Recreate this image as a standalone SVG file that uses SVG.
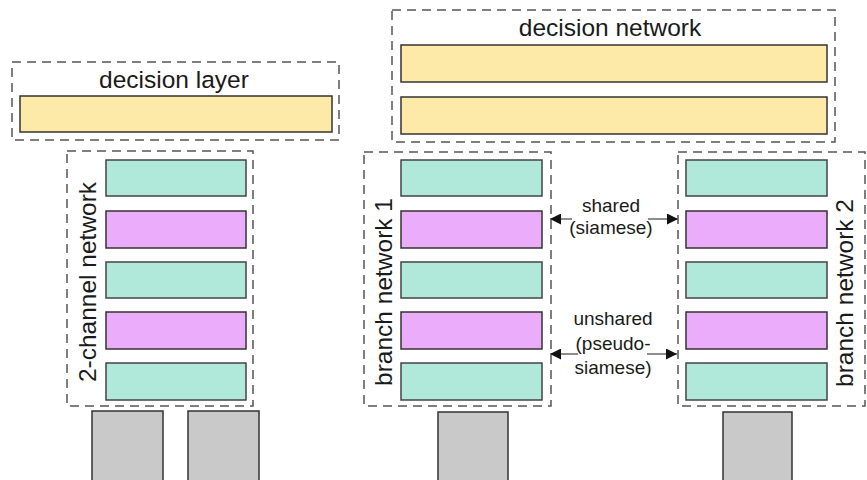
<svg xmlns="http://www.w3.org/2000/svg" width="867" height="480" viewBox="0 0 867 480">
<defs>
<style>
.grp{fill:none;stroke:#555;stroke-width:1.5;stroke-dasharray:9,6}
.dec{fill:#FEEAA8;stroke:#333;stroke-width:1.5}
.conv{fill:#B0E8DA;stroke:#444;stroke-width:1.5}
.pool{fill:#EBACFB;stroke:#333;stroke-width:1.5}
.inp{fill:#C9C9C9;stroke:#333;stroke-width:1.5}
.lbl{font-family:"Liberation Sans",Arial,sans-serif;font-size:24.5px;fill:#1a1a1a;text-anchor:middle}
.sm{font-family:"Liberation Sans",Arial,sans-serif;font-size:19px;fill:#1a1a1a;text-anchor:middle}
.arr{stroke:#666;stroke-width:1.5;fill:none;marker-end:url(#ah)}
</style>
<marker id="ah" viewBox="0 0 10 10" refX="10" refY="5" markerWidth="15" markerHeight="11" markerUnits="userSpaceOnUse" orient="auto">
<path d="M0,0 L10,5 L0,10 z" fill="#111"/>
</marker>
</defs>

<g id="decision-layer">
<rect class="grp" x="12" y="62" width="327" height="78"/>
<text class="lbl" x="174" y="88">decision layer</text>
<rect class="dec" x="20" y="96" width="312" height="36"/>
</g>

<g id="two-channel-network">
<rect class="grp" x="67" y="151" width="186" height="255"/>
<text class="lbl" transform="translate(96,282) rotate(-90)">2-channel network</text>
<rect class="conv" x="106" y="160" width="140" height="36"/>
<rect class="pool" x="106" y="211" width="140" height="37"/>
<rect class="conv" x="106" y="262" width="140" height="36"/>
<rect class="pool" x="106" y="312" width="140" height="37"/>
<rect class="conv" x="106" y="363" width="140" height="37"/>
</g>
<g id="input-a"><rect class="inp" x="92" y="411" width="71" height="75"/></g>
<g id="input-b"><rect class="inp" x="188" y="411" width="71" height="75"/></g>

<g id="decision-network">
<rect class="grp" x="392" y="10" width="443" height="132"/>
<text class="lbl" x="610" y="36">decision network</text>
<rect class="dec" x="401" y="45" width="426" height="37"/>
<rect class="dec" x="401" y="97" width="426" height="37"/>
</g>

<g id="branch-network-1">
<rect class="grp" x="364" y="152" width="187" height="254"/>
<text class="lbl" transform="translate(392,292) rotate(-90)">branch network 1</text>
<rect class="conv" x="401" y="160" width="141" height="36"/>
<rect class="pool" x="401" y="211" width="141" height="37"/>
<rect class="conv" x="401" y="262" width="141" height="36"/>
<rect class="pool" x="401" y="312" width="141" height="37"/>
<rect class="conv" x="401" y="363" width="141" height="37"/>
</g>
<g id="input-1"><rect class="inp" x="438" y="412" width="70" height="75"/></g>

<g id="branch-network-2">
<rect class="grp" x="678" y="152" width="187" height="254"/>
<text class="lbl" transform="translate(853,293) rotate(-90)">branch network 2</text>
<rect class="conv" x="686" y="160" width="141" height="36"/>
<rect class="pool" x="686" y="211" width="141" height="37"/>
<rect class="conv" x="686" y="262" width="141" height="36"/>
<rect class="pool" x="686" y="312" width="141" height="37"/>
<rect class="conv" x="686" y="363" width="141" height="37"/>
</g>
<g id="input-2"><rect class="inp" x="723" y="412" width="69" height="75"/></g>

<g id="connectors">
<line class="arr" x1="572" y1="219" x2="550" y2="219"/>
<line class="arr" x1="648" y1="219" x2="678" y2="219"/>
<line class="arr" x1="578" y1="354" x2="550" y2="354"/>
<line class="arr" x1="647" y1="354" x2="677" y2="354"/>
</g>

<g id="labels">
<text class="sm" x="611" y="212">shared</text>
<text class="sm" x="611" y="234">(siamese)</text>
<text class="sm" x="613" y="325">unshared</text>
<text class="sm" x="613" y="350">(pseudo-</text>
<text class="sm" x="613" y="374">siamese)</text>
</g>
</svg>
